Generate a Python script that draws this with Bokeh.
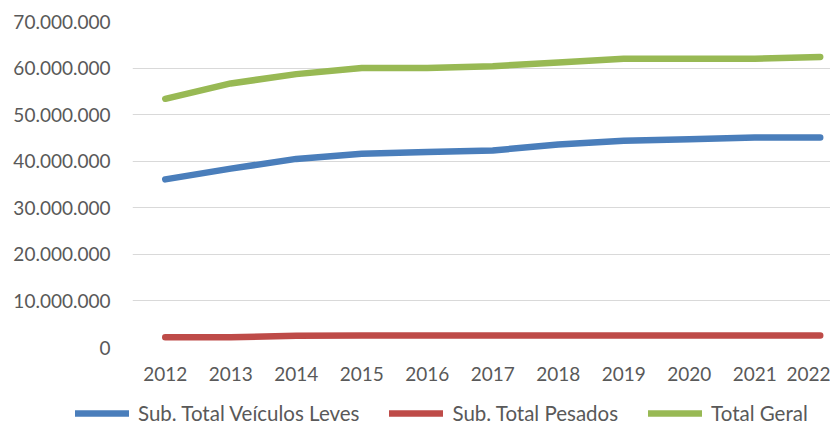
from bokeh.plotting import figure
from bokeh.layouts import column
from bokeh.models import Range1d, FixedTicker, CustomJSTickFormatter, Legend, LegendItem
from bokeh.embed import file_html
from bokeh.resources import INLINE

years = [2012, 2013, 2014, 2015, 2016, 2017, 2018, 2019, 2020, 2021, 2022]
leves = [36.1e6, 38.4e6, 40.5e6, 41.6e6, 42.0e6, 42.3e6, 43.6e6, 44.4e6, 44.7e6, 45.1e6, 45.1e6]
pesados = [2.2e6, 2.2e6, 2.5e6, 2.6e6, 2.6e6, 2.6e6, 2.6e6, 2.6e6, 2.6e6, 2.6e6, 2.6e6]
total = [53.4e6, 56.7e6, 58.7e6, 60.0e6, 60.0e6, 60.4e6, 61.2e6, 62.0e6, 62.0e6, 62.0e6, 62.4e6]
y_ticks = [0, 10e6, 20e6, 30e6, 40e6, 50e6, 60e6, 70e6]
series_names = ["Sub. Total Veículos Leves", "Sub. Total Pesados", "Total Geral"]
colors = ["#4A7EBB", "#BE4B48", "#98B954"]

FONT = "Lato"
TXT = "#595959"
W = 830
FRAME_LEFT = 132

p = figure(width=W, height=392, output_backend="svg", toolbar_location=None,
           x_range=Range1d(2011.5, 2022.157), y_range=Range1d(0, 70e6),
           min_border_left=FRAME_LEFT, min_border_right=0, min_border_top=21, min_border_bottom=45)
p.outline_line_color = None
p.background_fill_color = "white"
p.border_fill_color = "white"

p.xgrid.visible = False
p.ygrid.grid_line_color = "#D9D9D9"
p.ygrid.grid_line_width = 1

p.yaxis.ticker = FixedTicker(ticks=y_ticks)
p.yaxis.formatter = CustomJSTickFormatter(code="return tick.toFixed(0).replace(/\\B(?=(\\d{3})+(?!\\d))/g, '.');")
p.xaxis.ticker = FixedTicker(ticks=years)
for ax in (p.xaxis, p.yaxis):
    ax.axis_line_color = None
    ax.major_tick_line_color = None
    ax.minor_tick_line_color = None
    ax.major_tick_out = 0
    ax.major_tick_in = 0
    ax.minor_tick_out = 0
    ax.major_label_text_font = FONT
    ax.major_label_text_font_size = "19px"
    ax.major_label_text_color = TXT
p.yaxis.major_label_standoff = 22
p.xaxis.major_label_standoff = 19

series = [leves, pesados, total]
for vals, name, c in zip(series, series_names, colors):
    p.line(years, vals, line_color=c, line_width=6.5, line_cap="round", line_join="round")

# legend strip below the chart (its own lines fall outside its view, only the legend shows)
lg = figure(width=W, height=33, output_backend="svg", toolbar_location=None,
            x_range=Range1d(0, 1), y_range=Range1d(0, 1),
            min_border_left=0, min_border_right=0, min_border_top=0, min_border_bottom=0)
lg.axis.visible = False
lg.grid.visible = False
lg.outline_line_color = None
items = []
for vals, name, c in zip(series, series_names, colors):
    r = lg.line(years, vals, line_color=c, line_width=6.5, line_cap="round")
    items.append(LegendItem(label=name, renderers=[r]))

legend_x = 75
try:
    lg.frame_align = False
    p.frame_align = False
except AttributeError:
    legend_x = 75 - FRAME_LEFT

legend = Legend(items=items, orientation="horizontal", location=(legend_x, 0),
                label_text_font=FONT, label_text_font_size="20.5px", label_text_color=TXT,
                glyph_width=54, glyph_height=20, label_standoff=9, spacing=30,
                border_line_color=None, background_fill_alpha=0, padding=0, margin=0)
lg.add_layout(legend, "center")

layout = column(p, lg, spacing=0)
open("out.html", "w").write(file_html(layout, INLINE))
